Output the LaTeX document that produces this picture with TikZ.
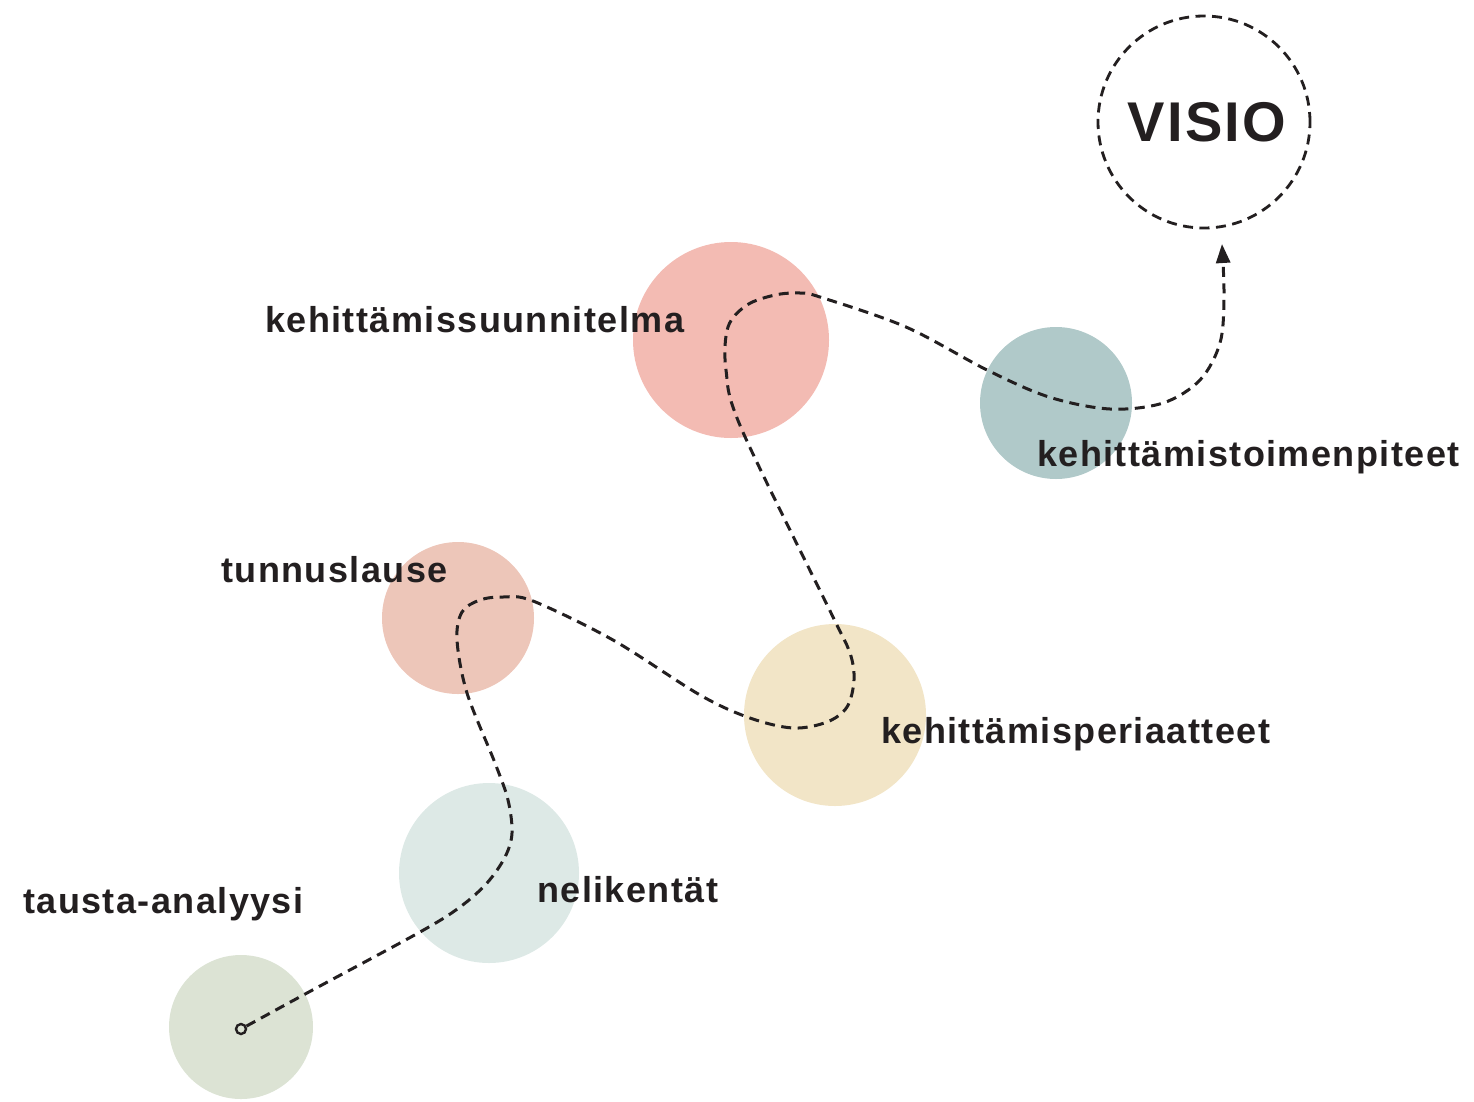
\documentclass[tikz,border=0pt]{standalone}
\usepackage{fontspec}
\setmainfont{Liberation Sans}[LetterSpace=4]
\usetikzlibrary{arrows.meta}
\definecolor{txt}{HTML}{231F20}
\definecolor{cTausta}{HTML}{DCE3D4}
\definecolor{cNeli}{HTML}{DDE9E6}
\definecolor{cTunnus}{HTML}{EDC6B9}
\definecolor{cPeri}{HTML}{F2E5C7}
\definecolor{cSuunn}{HTML}{F3BBB3}
\definecolor{cToimen}{HTML}{B0C9C9}
\begin{document}
\begin{tikzpicture}[x=1pt,y=-1pt,
  blob/.style={circle,inner sep=0pt,draw=none},
  lbl/.style={anchor=base west,inner sep=0pt,text=txt,font=\fontsize{36pt}{40pt}\selectfont\bfseries},
  route/.style={draw=txt,line width=3pt,dash pattern=on 10pt off 6.5pt},
]
\useasboundingbox (0,0) rectangle (1474,1101);
% circles
\node[blob,fill=cTausta,minimum size=144pt] (tausta) at (241,1027) {};
\node[blob,fill=cNeli,minimum size=180pt] (neli) at (489,873) {};
\node[blob,fill=cTunnus,minimum size=152pt] (tunnus) at (458,618) {};
\node[blob,fill=cPeri,minimum size=182pt] (peri) at (835,715) {};
\node[blob,fill=cSuunn,minimum size=196pt] (suunn) at (731,340) {};
\node[blob,fill=cToimen,minimum size=152pt] (toimen) at (1056,403) {};
\node[circle,draw=txt,line width=2.8pt,dash pattern=on 10pt off 6.5pt,minimum size=212pt,inner sep=0pt,
      text=txt,font=\fontsize{56pt}{60pt}\selectfont\bfseries] (visio) at (1204,122) {\hspace*{6pt}VISIO};
% labels
\node[lbl] (lTausta) at (23,913) {tausta-analyysi};
\node[lbl] (lNeli) at (537,902) {nelikentät};
\node[lbl] (lTunnus) at (221,582) {tunnuslause};
\node[lbl] (lPeri) at (881,743) {kehittämisperiaatteet};
\node[lbl] (lSuunn) at (265,332) {kehittämissuunnitelma};
\node[lbl] (lToimen) at (1037,466) {kehittämistoimenpiteet};
% route
\node[circle,draw=txt,line width=2.4pt,minimum size=10pt,inner sep=0pt] (start) at (241,1029) {};
\coordinate (tip) at (1222,244);
\draw[route,-{Triangle[length=19pt,width=14pt]}] plot[smooth,tension=0.55] coordinates {
 (start.28) (307,993) (420,932) (460,907) (487,883) (505,857) (512,833) (508,800)
 (495,763) (467,693) (457,640) (462,612) (480,600) (503,597) (533,601) (613,640)
 (700,695) (750,718) (793,728) (827,722) (847,707) (854,680) (850,653) (833,617)
 (742,430) (726,370) (728,327) (747,305) (775,295)
 (800,293) (820,297) (906,327) (987,370) (1049,397) (1110,409) (1163,403) (1200,380)
 (1220,343) (1224,297) (tip)};
\end{tikzpicture}
\end{document}
